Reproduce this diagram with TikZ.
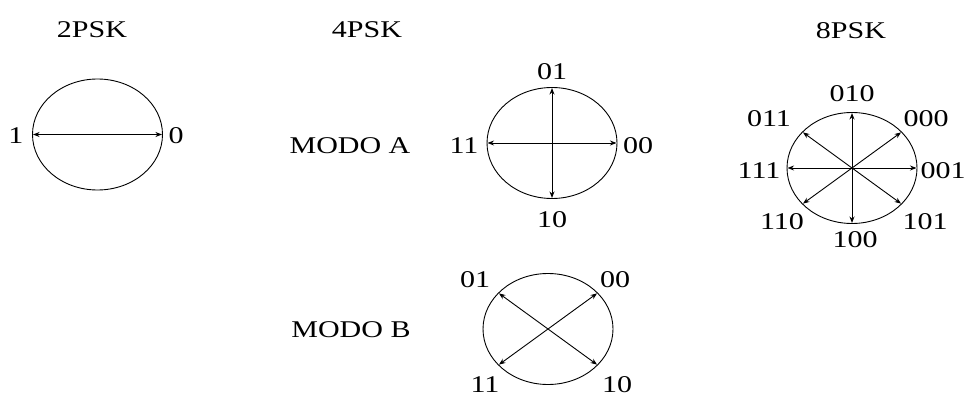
\documentclass[tikz,border=0pt]{standalone}
\usepackage{fontspec}
\setmainfont{Liberation Serif}[FakeStretch=1.25]
\usetikzlibrary{shapes.geometric,arrows.meta}

\begin{document}
\begin{tikzpicture}[x=1pt,y=-1pt,
    lbl/.style={font=\fontsize{24}{24}\selectfont, inner sep=0pt},
    circ/.style={draw, ellipse, line width=0.9pt, inner sep=0pt,
      minimum width=130pt, minimum height=111pt},
    vec/.style={{Stealth[length=6.5pt,width=5pt]}-{Stealth[length=6.5pt,width=5pt]},
      line width=0.9pt, shorten <=1pt, shorten >=1pt},
    ray/.style={-{Stealth[length=6.5pt,width=5pt]}, line width=0.9pt, shorten >=1pt}]
    \useasboundingbox (0,0) rectangle (965,398);

    % 2PSK
    \node[lbl] (t2) at (92,30) {2PSK};
    \node[circ] (e2) at (97.5,134.5) {};
    \draw[vec] (e2.west) -- (e2.east);
    \node[lbl] (s1) at (16,136) {1};
    \node[lbl] (s0) at (176,136) {0};

    % 4PSK, modo A
    \node[lbl] (t4) at (367,30) {4PSK};
    \node[lbl] (ma) at (350,146) {MODO A};
    \node[circ] (ea) at (552,143) {};
    \draw[vec] (ea.west) -- (ea.east);
    \draw[vec] (ea.north) -- (ea.south);
    \node[lbl] (a01) at (552,72) {01};
    \node[lbl] (a11) at (464,146) {11};
    \node[lbl] (a00) at (638,146) {00};
    \node[lbl] (a10) at (552,220) {10};

    % 4PSK, modo B
    \node[lbl] (mb) at (351,330) {MODO B};
    \node[circ] (eb) at (548,329) {};
    \draw[vec] (eb.144) -- (eb.324);
    \draw[vec] (eb.36) -- (eb.216);
    \node[lbl] (b01) at (475,280) {01};
    \node[lbl] (b00) at (615,280) {00};
    \node[lbl] (b11) at (485,385) {11};
    \node[lbl] (b10) at (617,385) {10};

    % 8PSK
    \node[lbl] (t8) at (851,31) {8PSK};
    \node[circ] (e8) at (852,168) {};
    \foreach \a in {0,36,90,144,180,216,270,324}
      \draw[ray] (e8.center) -- (e8.\a);
    \node[lbl] (c010) at (852,94) {010};
    \node[lbl] (c011) at (769,119) {011};
    \node[lbl] (c000) at (926,119) {000};
    \node[lbl] (c111) at (759,171) {111};
    \node[lbl] (c001) at (943,171) {001};
    \node[lbl] (c110) at (782,222) {110};
    \node[lbl] (c100) at (855,240) {100};
    \node[lbl] (c101) at (925,222) {101};
\end{tikzpicture}
\end{document}
